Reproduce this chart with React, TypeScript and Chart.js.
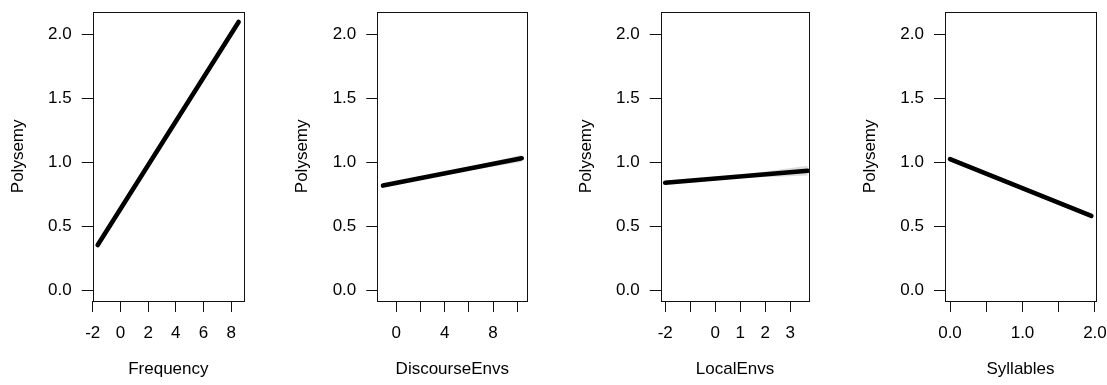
import React, { useEffect, useRef } from 'react';
import { Chart, registerables } from 'chart.js';
Chart.register(...registerables);

// ---- shared y axis ----
const yTitle = 'Polysemy';
const yMin = -0.08;
const yMax = 2.176;
const yTicks = [0, 0.5, 1, 1.5, 2];
const yTickLabels = ['0.0', '0.5', '1.0', '1.5', '2.0'];

// ---- Frequency ----
const frequencyTitle = 'Frequency';
const frequencyX = [-1.64, 8.53];
const frequencyY = [0.356, 2.096];
const frequencyBandX = [-1.64, 8.53];
const frequencyUpper = [0.372, 2.114];
const frequencyLower = [0.34, 2.078];
const frequencyTicks = [-2, 0, 2, 4, 6, 8];
const frequencyTickLabels = ['-2', '0', '2', '4', '6', '8'];

// ---- DiscourseEnvs ----
const discourseTitle = 'DiscourseEnvs';
const discourseX = [-1.1, 10.37];
const discourseY = [0.82, 1.033];
const discourseBandX = [-1.1, 4.5, 10.37];
const discourseUpper = [0.832, 0.93, 1.06];
const discourseLower = [0.808, 0.914, 1.003];
const discourseTicks = [0, 2, 4, 6, 8, 10];
const discourseTickLabels = ['0', '', '4', '', '8', ''];

// ---- LocalEnvs ----
const localTitle = 'LocalEnvs';
const localX = [-2.0, 3.7];
const localY = [0.842, 0.936];
const localBandX = [-2.0, 0.5, 3.7];
const localUpper = [0.856, 0.89, 0.975];
const localLower = [0.828, 0.875, 0.898];
const localTicks = [-2, -1, 0, 1, 2, 3];
const localTickLabels = ['-2', '', '0', '1', '2', '3'];

// ---- Syllables ----
const syllablesTitle = 'Syllables';
const syllablesX = [0, 1.95];
const syllablesY = [1.027, 0.583];
const syllablesBandX = [0, 1.95];
const syllablesUpper = [1.042, 0.6];
const syllablesLower = [1.012, 0.566];
const syllablesTicks = [0, 0.5, 1, 1.5, 2];
const syllablesTickLabels = ['0.0', '', '1.0', '', '2.0'];

type Panel = {
  title: string;
  x: number[];
  y: number[];
  bandX: number[];
  upper: number[];
  lower: number[];
  ticks: number[];
  tickLabels: string[];
  xMin: number;
  xMax: number;
  boxLeft: number;
  boxRight: number;
};

const panels: Panel[] = [
  { title: frequencyTitle, x: frequencyX, y: frequencyY, bandX: frequencyBandX, upper: frequencyUpper, lower: frequencyLower, ticks: frequencyTicks, tickLabels: frequencyTickLabels, xMin: -2.0, xMax: 8.92, boxLeft: 92.7, boxRight: 244 },
  { title: discourseTitle, x: discourseX, y: discourseY, bandX: discourseBandX, upper: discourseUpper, lower: discourseLower, ticks: discourseTicks, tickLabels: discourseTickLabels, xMin: -1.57, xMax: 10.83, boxLeft: 377.3, boxRight: 527.3 },
  { title: localTitle, x: localX, y: localY, bandX: localBandX, upper: localUpper, lower: localLower, ticks: localTicks, tickLabels: localTickLabels, xMin: -2.18, xMax: 3.76, boxLeft: 660.7, boxRight: 809.3 },
  { title: syllablesTitle, x: syllablesX, y: syllablesY, bandX: syllablesBandX, upper: syllablesUpper, lower: syllablesLower, ticks: syllablesTicks, tickLabels: syllablesTickLabels, xMin: -0.069, xMax: 2.014, boxLeft: 945, boxRight: 1096 },
];

const HEIGHT = 385;
const BOX_TOP = 11.7;
const BOX_BOTTOM = 301;
const FONT = "'Liberation Sans', Arial, sans-serif";
const FONT_SIZE = 17;

Chart.defaults.font.family = FONT;
Chart.defaults.font.size = FONT_SIZE;
Chart.defaults.color = '#000';

const boxPlugin = {
  id: 'boxPlugin',
  afterDatasetsDraw(chart: any) {
    const { ctx, chartArea } = chart;
    ctx.save();
    ctx.strokeStyle = '#111';
    ctx.lineWidth = 1;
    const l = Math.round(chartArea.left) + 0.5;
    const t = Math.round(chartArea.top) + 0.5;
    const r = Math.round(chartArea.right) + 0.5;
    const b = Math.round(chartArea.bottom) + 0.5;
    ctx.strokeRect(l, t, r - l, b - t);
    ctx.restore();
  },
};

function PanelChart({ p }: { p: Panel }) {
  const ref = useRef<HTMLCanvasElement | null>(null);
  const left = Math.floor(p.boxLeft - 93);
  const yWidth = p.boxLeft - left;
  const width = Math.ceil(p.boxRight + 22) - left;
  const padRight = width - (p.boxRight - left);
  const xHeight = HEIGHT - BOX_BOTTOM;
  const lineHeight = FONT_SIZE * 1.2;
  const tickFont = { family: FONT, size: FONT_SIZE };

  useEffect(() => {
    if (!ref.current) return;
    const chart = new Chart(ref.current, {
      type: 'line',
      data: {
        datasets: [
          {
            data: p.x.map((v, i) => ({ x: v, y: p.y[i] })),
            borderColor: '#000',
            borderWidth: 4.6,
            borderCapStyle: 'round',
            pointRadius: 0,
            fill: false,
            tension: 0,
          },
          {
            data: p.bandX.map((v, i) => ({ x: v, y: p.upper[i] })),
            borderWidth: 0,
            borderColor: 'rgba(0,0,0,0)',
            backgroundColor: 'rgba(205,205,205,0.7)',
            pointRadius: 0,
            fill: '+1',
            tension: 0,
          },
          {
            data: p.bandX.map((v, i) => ({ x: v, y: p.lower[i] })),
            borderWidth: 0,
            borderColor: 'rgba(0,0,0,0)',
            pointRadius: 0,
            fill: false,
            tension: 0,
          },
        ],
      },
      options: {
        animation: false,
        responsive: false,
        devicePixelRatio: 1,
        font: tickFont,
        layout: { padding: { left: 0, top: BOX_TOP, right: padRight, bottom: 0 } },
        plugins: { legend: { display: false }, tooltip: { enabled: false } },
        events: [],
        scales: {
          x: {
            type: 'linear',
            min: p.xMin,
            max: p.xMax,
            border: { display: false },
            grid: { drawOnChartArea: false, drawTicks: true, tickLength: 11, color: '#111', lineWidth: 1 },
            ticks: {
              autoSkip: false,
              maxRotation: 0,
              minRotation: 0,
              padding: 11,
              color: '#000',
              font: () => tickFont,
              callback: (_v: any, i: number) => p.tickLabels[i],
            },
            afterBuildTicks: (scale: any) => {
              scale.ticks = p.ticks.map((v) => ({ value: v }));
            },
            afterFit: (scale: any) => {
              scale.height = xHeight;
              scale.paddingLeft = 0;
              scale.paddingRight = 0;
            },
            title: {
              display: true,
              text: p.title,
              color: '#000',
              font: tickFont,
              padding: { top: 0, bottom: 5 },
            },
          },
          y: {
            type: 'linear',
            min: yMin,
            max: yMax,
            border: { display: false },
            grid: { drawOnChartArea: false, drawTicks: true, tickLength: 11, color: '#111', lineWidth: 1 },
            ticks: {
              autoSkip: false,
              padding: 10,
              color: '#000',
              font: () => tickFont,
              callback: (_v: any, i: number) => yTickLabels[i],
            },
            afterBuildTicks: (scale: any) => {
              scale.ticks = yTicks.map((v) => ({ value: v }));
            },
            afterFit: (scale: any) => {
              scale.width = yWidth;
              scale.paddingTop = 0;
              scale.paddingBottom = 0;
            },
            title: {
              display: true,
              text: yTitle,
              color: '#000',
              font: tickFont,
              padding: { top: yWidth - 74.5 - lineHeight / 2, bottom: 0 },
            },
          },
        },
      } as any,
      plugins: [boxPlugin],
    });
    return () => chart.destroy();
  }, []);

  return (
    <canvas
      ref={ref}
      width={width}
      height={HEIGHT}
      style={{ position: 'absolute', left, top: 0, width, height: HEIGHT }}
    />
  );
}

export default function App() {
  return (
    <div style={{ position: 'absolute', left: 0, top: 0, width: 1107, height: HEIGHT, background: '#fff' }}>
      {panels.map((p, i) => (
        <PanelChart key={i} p={p} />
      ))}
    </div>
  );
}
